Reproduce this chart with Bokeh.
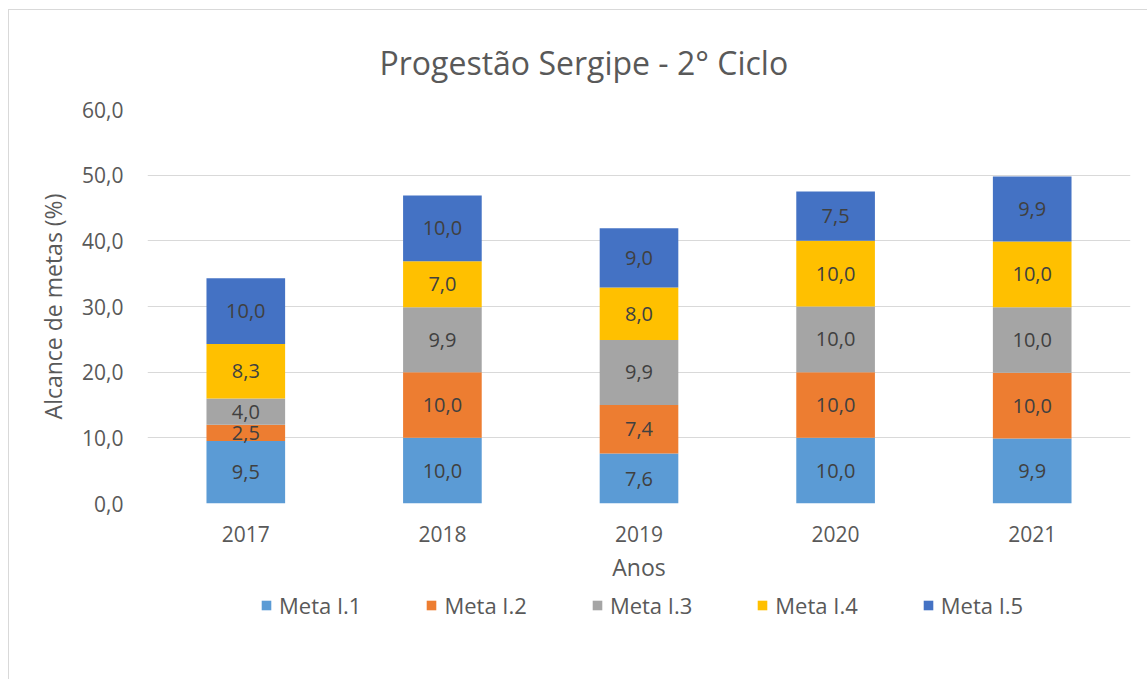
from bokeh.plotting import figure
from bokeh.models import (ColumnDataSource, Legend, LegendItem, LabelSet, FixedTicker,
                          FactorRange, Range1d)
from bokeh.layouts import column
from bokeh.core.properties import value
from bokeh.embed import file_html
from bokeh.resources import INLINE

# ---- data ----
years = ["2017", "2018", "2019", "2020", "2021"]
meta_1 = [9.5, 10.0, 7.6, 10.0, 9.9]
meta_2 = [2.5, 10.0, 7.4, 10.0, 10.0]
meta_3 = [4.0, 9.9, 9.9, 10.0, 10.0]
meta_4 = [8.3, 7.0, 8.0, 10.0, 10.0]
meta_5 = [10.0, 10.0, 9.0, 7.5, 9.9]
series_names = ["Meta I.1", "Meta I.2", "Meta I.3", "Meta I.4", "Meta I.5"]
y_ticks = [0, 10, 20, 30, 40, 50, 60]
title_text = "Progestão Sergipe - 2° Ciclo"
x_title = "Anos"
y_title = "Alcance de metas (%)"

colors = ["#5B9BD5", "#ED7D31", "#A5A5A5", "#FFC000", "#4472C4"]
FONT = "Open Sans"
TXT = "#595959"

series = [meta_1, meta_2, meta_3, meta_4, meta_5]
keys = ["m1", "m2", "m3", "m4", "m5"]
data = {"year": years}
for k, s in zip(keys, series):
    data[k] = s
source = ColumnDataSource(data)

p = figure(x_range=FactorRange(*years), y_range=Range1d(0, 60),
           width=1138, height=580, output_backend="svg", toolbar_location=None,
           min_border_left=138, min_border_right=17, min_border_top=99, min_border_bottom=87,
           background_fill_color="white", border_fill_color="white")
p.outline_line_color = None

renderers = p.vbar_stack(keys, x="year", width=0.4, source=source,
                         color=colors, line_color=None)

# data labels
bottoms = [0.0] * len(years)
for k, s in zip(keys, series):
    mids = [b + v / 2 for b, v in zip(bottoms, s)]
    txt = [("%.1f" % v).replace(".", ",") for v in s]
    lsrc = ColumnDataSource(dict(year=years, y=mids, t=txt))
    p.add_layout(LabelSet(x="year", y="y", text="t", source=lsrc,
                          text_align="center", text_baseline="middle",
                          text_font=value(FONT), text_font_size="20px", text_color="#404040"))
    bottoms = [b + v for b, v in zip(bottoms, s)]

# axes
p.yaxis.ticker = FixedTicker(ticks=y_ticks)
p.yaxis.major_label_overrides = {t: ("%.1f" % t).replace(".", ",") for t in y_ticks}
for ax in (p.xaxis, p.yaxis):
    ax.axis_line_color = None
    ax.major_tick_line_color = None
    ax.minor_tick_line_color = None
    ax.major_tick_in = 0
    ax.major_tick_out = 0
    ax.major_label_text_font = FONT
    ax.major_label_text_font_size = "21px"
    ax.major_label_text_color = TXT
    ax.axis_label_text_font = FONT
    ax.axis_label_text_font_size = "23px"
    ax.axis_label_text_color = TXT
    ax.axis_label_text_font_style = "normal"
p.yaxis.major_label_standoff = 24
p.yaxis.axis_label = y_title
p.yaxis.axis_label_standoff = 10
p.xaxis.major_label_standoff = 22
p.xaxis.axis_label = x_title
p.xaxis.axis_label_standoff = 6

p.xgrid.grid_line_color = None
p.ygrid.grid_line_color = "#d9d9d9"
p.ygrid.grid_line_width = 1

# title
p.title.text = title_text
p.title.align = "left"
p.title.offset = 232
p.title.text_font = FONT
p.title.text_font_size = "32px"
p.title.text_color = TXT
p.title.text_font_style = "normal"
p.title.standoff = 52

# legend in a strip below the chart (frame is aligned with the chart's frame)
lg = figure(width=1138, height=89, output_backend="svg", toolbar_location=None,
            x_range=Range1d(0, 1), y_range=Range1d(0, 1),
            min_border=0, background_fill_color="white", border_fill_color="white")
lg.outline_line_color = None
lg.axis.visible = False
lg.grid.visible = False
dummy = []
for c in colors:
    dummy.append(lg.vbar(x=[-5], top=[-5], bottom=[-6], width=0.1, color=c, line_color=None))
items = [LegendItem(label=n, renderers=[r]) for n, r in zip(series_names, dummy)]
legend = Legend(items=items, orientation="horizontal", location=(113, 59),
                glyph_width=12, glyph_height=12, label_standoff=7, spacing=64,
                label_text_font=FONT, label_text_font_size="22px", label_text_color=TXT,
                border_line_color=None, background_fill_alpha=0, padding=0, margin=0)
lg.add_layout(legend, "center")

layout = column(p, lg, spacing=0,
                styles={"margin-left": "8px", "margin-top": "9px",
                        "border-left": "1px solid #d9d9d9", "border-top": "1px solid #d9d9d9"})

open("out.html", "w").write(file_html(layout, INLINE))
